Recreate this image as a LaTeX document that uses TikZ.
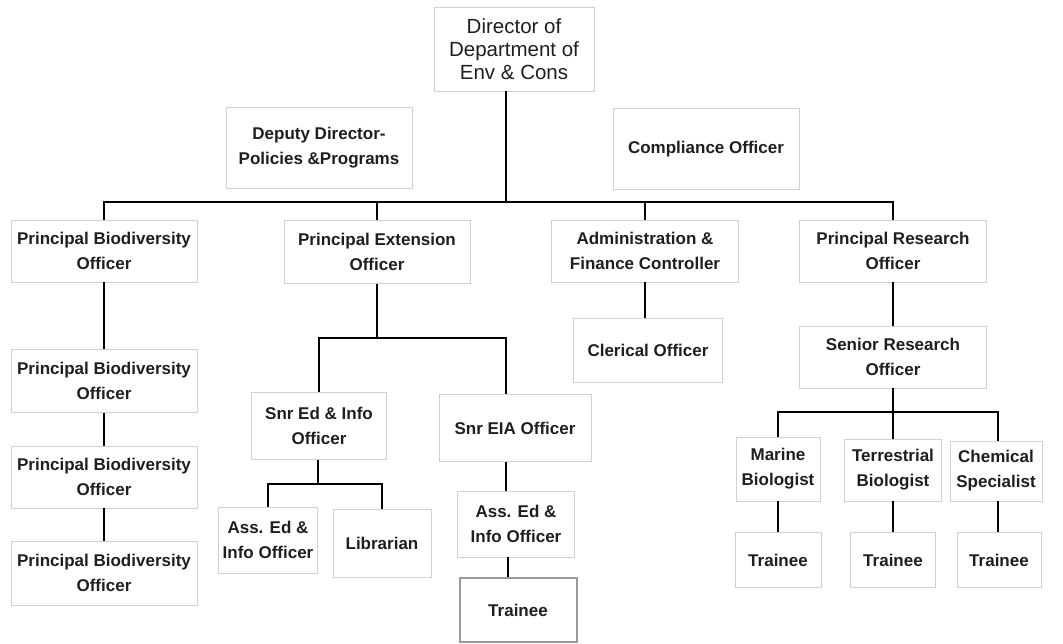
\documentclass[tikz,border=0pt]{standalone}
\usepackage{fontspec}
\setmainfont{Liberation Sans}
\usepackage{tikz}
\definecolor{boxline}{gray}{0.82}
\definecolor{boxdark}{gray}{0.6}
\definecolor{ink}{gray}{0.12}
\tikzset{
  post/.style={draw=boxline, line width=0.9pt, fill=white, align=center, inner sep=0pt,
    text=ink, font=\bfseries\fontsize{17}{25}\selectfont},
  link/.style={black, line width=1.3pt}
}

\begin{document}
\begin{tikzpicture}[x=1pt,y=-1pt]
       \useasboundingbox (0,0) rectangle (1063,644);

       % top of the chart
       \node[post, minimum width=160pt, minimum height=84pt, font=\fontsize{20.5}{23}\selectfont] (dir) at (514,49) {Director of\\Department of\\Env \& Cons};
       \node[post, minimum width=186pt, minimum height=81pt] (ddp) at (319,148) {Deputy Director-\\Policies \&Programs};
       \node[post, minimum width=186pt, minimum height=81pt] (cmp) at (706,149) {Compliance Officer};

       \node[post, minimum width=186pt, minimum height=62pt] (pbo1) at (104,251) {Principal Biodiversity\\Officer};
       \node[post, minimum width=186pt, minimum height=63pt] (peo) at (377,252) {Principal Extension\\Officer};
       \node[post, minimum width=187pt, minimum height=62pt] (afc) at (645,251) {Administration \&\\Finance Controller};
       \node[post, minimum width=187pt, minimum height=62pt] (pro) at (893,251) {Principal Research\\Officer};

       % left column
       \node[post, minimum width=186pt, minimum height=63pt] (pbo2) at (104,381) {Principal Biodiversity\\Officer};
       \node[post, minimum width=186pt, minimum height=62pt] (pbo3) at (104,477) {Principal Biodiversity\\Officer};
       \node[post, minimum width=186pt, minimum height=64pt] (pbo4) at (104,573) {Principal Biodiversity\\Officer};

       % extension branch
       \node[post, minimum width=135pt, minimum height=67pt] (sei) at (319,426) {Snr Ed \& Info\\Officer};
       \node[post, minimum width=152pt, minimum height=67pt] (eia) at (515,428) {Snr EIA Officer};
       \node[post, minimum width=99pt, minimum height=66pt] (aei1) at (268,540) {Ass. Ed \&\\Info Officer};
       \node[post, minimum width=98pt, minimum height=68pt] (lib) at (382,543) {Librarian};
       \node[post, minimum width=117pt, minimum height=66pt] (aei2) at (516,524) {Ass. Ed \&\\Info Officer};
       \node[post, draw=boxdark, line width=2pt, minimum width=117pt, minimum height=64pt] (tr0) at (518,610) {Trainee};

       % admin branch
       \node[post, minimum width=149pt, minimum height=64pt] (clo) at (648,350) {Clerical Officer};

       % research branch
       \node[post, minimum width=187pt, minimum height=62pt] (sro) at (893,357) {Senior Research\\Officer};
       \node[post, minimum width=84pt, minimum height=64pt] (mb) at (778,469) {Marine\\Biologist};
       \node[post, minimum width=97pt, minimum height=62pt] (tb) at (893,470) {Terrestrial\\Biologist};
       \node[post, minimum width=92pt, minimum height=60pt] (cs) at (996,471) {Chemical\\Specialist};
       \node[post, minimum width=86pt, minimum height=55pt] (t1) at (778,560) {Trainee};
       \node[post, minimum width=85pt, minimum height=55pt] (t2) at (893,560) {Trainee};
       \node[post, minimum width=84pt, minimum height=55pt] (t3) at (999,560) {Trainee};

       \coordinate (hub) at (506,202);
       \coordinate (edbus) at (377,338);
       \coordinate (seibus) at (318,484);
       \coordinate (srobus) at (893,412);

       \draw[link] (dir.south -| hub) -- (hub);
       \draw[link] (pbo1.north) |- (pro.north |- hub) -- (pro.north);
       \draw[link] (peo.north) -- (peo.north |- hub);
       \draw[link] (afc.north) -- (afc.north |- hub);

       \draw[link] (pbo1) -- (pbo2);
       \draw[link] (pbo2) -- (pbo3);
       \draw[link] (pbo3) -- (pbo4);

       \draw[link] (peo.south) -- (edbus);
       \draw[link] (sei.north) |- (edbus) -| ([xshift=-9pt]eia.north);
       \draw[link] (sei.south -| seibus) -- (seibus);
       \draw[link] (aei1.north) |- (seibus) -| (lib.north);
       \draw[link] ([xshift=-9pt]eia.south) -- ([xshift=-10pt]aei2.north);
       \draw[link] ([xshift=-8pt]aei2.south) -- ([xshift=-10pt]tr0.north);

       \draw[link] (afc.south) -- (afc.south |- clo.north);

       \draw[link] (pro) -- (sro);
       \draw[link] (sro.south) -- (tb.north);
       \draw[link] (mb.north) |- (srobus) -| ([xshift=2pt]cs.north);
       \draw[link] (mb) -- (t1);
       \draw[link] (tb) -- (t2);
       \draw[link] ([xshift=2pt]cs.south) -- ([xshift=-1pt]t3.north);
      \end{tikzpicture}
\end{document}
